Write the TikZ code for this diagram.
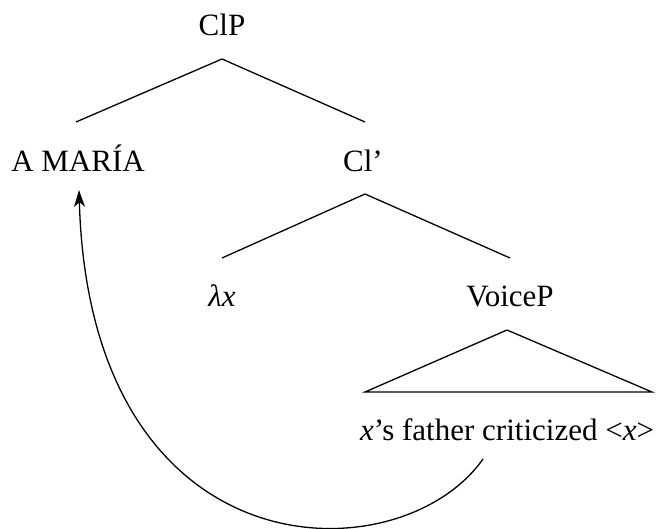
\documentclass[tikz,border=0pt]{standalone}
\usepackage{fontspec}
\setmainfont{Liberation Serif}
\usetikzlibrary{arrows.meta,calc}
\begin{document}
\begin{tikzpicture}[x=1pt,y=-1pt, line width=1.3pt,
  lbl/.style={anchor=base, inner sep=0pt, font=\fontsize{31}{36}\selectfont},
  branch/.style={line width=1.3pt},
  move/.style={line width=1.3pt, -{Stealth[length=17pt,width=11pt,inset=5pt]}}]
\useasboundingbox (0,0) rectangle (660,529);
\node[lbl] (clp) at (222,36) {ClP};
\node[lbl] (amaria) at (78,172) {A MARÍA};
\node[lbl] (clbar) at (363,172) {Cl’};
\node[lbl] (lam) at (222,306) {\itshape λx};
\node[lbl] (voicep) at (510,306) {VoiceP};
\node[lbl] (yield) at (507,440) {\textit{x}’s father criticized <\textit{x}>};
% tree branches
\coordinate (clp-top) at ([yshift=-23pt]clp.base);
\coordinate (am-top) at ([xshift=-2pt,yshift=50pt]amaria.base);
\coordinate (cl-top) at ([xshift=2pt,yshift=50pt]clbar.base);
\coordinate (cl-bot) at ([xshift=2pt,yshift=-22pt]clbar.base);
\coordinate (lam-top) at ([yshift=48pt]lam.base);
\coordinate (vp-top) at ([yshift=48pt]voicep.base);
\coordinate (vp-bot) at ([xshift=-3pt,yshift=-24pt]voicep.base);
\coordinate (tri-l) at ([xshift=-142pt,yshift=48pt]yield.base);
\coordinate (tri-r) at ([xshift=145pt,yshift=48pt]yield.base);
\coordinate (mv-start) at ([xshift=-24pt,yshift=-19pt]yield.base);
\coordinate (mv-end) at ([xshift=1pt,yshift=-18pt]amaria.base);
\draw[branch] (am-top) -- (clp-top) -- (cl-top);
\draw[branch] (lam-top) -- (cl-bot) -- (vp-top);
\draw[branch] (tri-l) -- (vp-bot) -- (tri-r) -- cycle;
\draw[move] (mv-start) .. controls (400,577) and (90,577) .. (mv-end);
\end{tikzpicture}
\end{document}
